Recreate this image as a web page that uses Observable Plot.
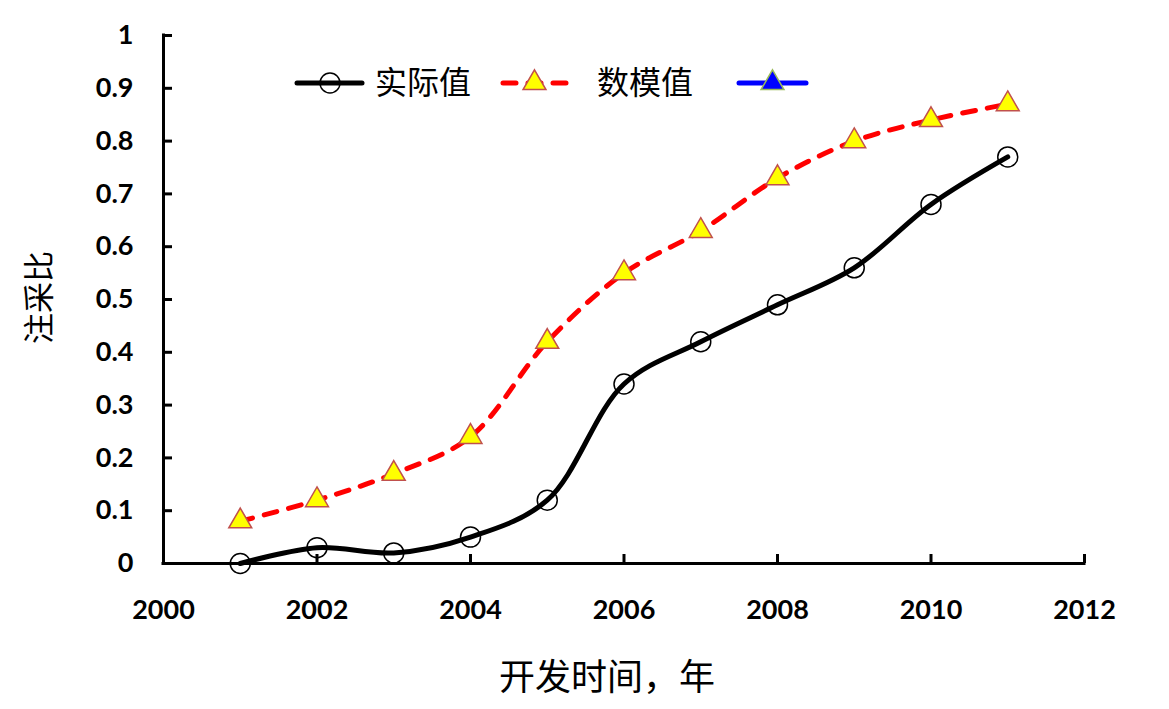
<!DOCTYPE html>
<html><head><meta charset="utf-8">
<script src="https://cdn.jsdelivr.net/npm/d3@7"></script>
<script src="https://cdn.jsdelivr.net/npm/@observablehq/plot@0.6"></script>
<style>
body{margin:0;background:#fff;}
#wrap{position:relative;width:1169px;height:709px;}
#legend{position:absolute;left:0;top:0;pointer-events:none;}
</style>
</head><body><div id="wrap"></div>
<script>
const years = [2001, 2002, 2003, 2004, 2005, 2006, 2007, 2008, 2009, 2010, 2011];
const actual = [0.00, 0.03, 0.02, 0.05, 0.12, 0.34, 0.42, 0.49, 0.56, 0.68, 0.77];
const model = [0.08, 0.12, 0.17, 0.24, 0.42, 0.55, 0.63, 0.73, 0.80, 0.84, 0.87];
const xTicks = [2000, 2002, 2004, 2006, 2008, 2010, 2012];
const yTicks = [0, 0.1, 0.2, 0.3, 0.4, 0.5, 0.6, 0.7, 0.8, 0.9, 1];
const seriesNames = ["实际值", "数模值", ""];
const xLabel = "开发时间，年";
const yLabel = "注采比";

const W = 1169, H = 709, mL = 163, mR = 85, mT = 35, mB = 146;
const pw = W - mL - mR, ph = H - mT - mB;
const actualData = years.map((x, i) => ({x, y: actual[i]}));
const modelData = years.map((x, i) => ({x, y: model[i]}));
const cjk = "'Noto Sans CJK SC', sans-serif";

const plot = Plot.plot({
  width: W, height: H,
  marginLeft: mL, marginRight: mR, marginTop: mT, marginBottom: mB,
  x: {domain: [2000, 2012]},
  y: {domain: [0, 1]},
  style: {fontFamily: "Lato, sans-serif", background: "white", color: "black"},
  marks: [
    Plot.ruleX([2000], {stroke: "black", strokeWidth: 3, strokeLinecap: "square"}),
    Plot.ruleY([0], {stroke: "black", strokeWidth: 3, strokeLinecap: "square"}),
    Plot.tickY(yTicks, {y: d => d, insetRight: pw - 9, stroke: "black", strokeWidth: 3}),
    Plot.tickX(xTicks, {x: d => d, insetTop: ph - 9, stroke: "black", strokeWidth: 3}),
    Plot.axisY(yTicks, {tickSize: 0, tickPadding: 30, tickFormat: d => String(d), fontSize: 27, fontWeight: "bold", label: null}),
    Plot.axisX(xTicks, {tickSize: 0, tickPadding: 36, tickFormat: d => String(d), fontSize: 27, fontWeight: "bold", label: null}),
    Plot.line(actualData, {x: "x", y: "y", curve: "catmull-rom", stroke: "black", strokeWidth: 5}),
    Plot.dot(actualData, {x: "x", y: "y", r: 10, stroke: "black", strokeWidth: 1.5, fill: "none"}),
    Plot.line(modelData, {x: "x", y: "y", curve: "catmull-rom", stroke: "#FF0000", strokeWidth: 5, strokeDasharray: "13,12", strokeLinecap: "round"}),
    Plot.dot(modelData, {x: "x", y: "y", symbol: "triangle", r: 8.5, fill: "#FFFF00", stroke: "#C0504D", strokeWidth: 1.5}),
    Plot.text([xLabel], {frameAnchor: "bottom", textAnchor: "middle", lineAnchor: "middle", dx: -17, dy: 115, fontSize: 36, fontFamily: cjk, fill: "black"}),
    Plot.text([yLabel], {frameAnchor: "left", textAnchor: "middle", lineAnchor: "middle", dx: -123, dy: -2, rotate: -90, fontSize: 31, fontFamily: cjk, fill: "black"})
  ]
});
const wrap = document.getElementById("wrap");
wrap.appendChild(plot);

// legend
const lg = d3.select(wrap).append("svg").attr("id", "legend").attr("width", W).attr("height", 140);
const ly = 83;
const items = [
  {x1: 297, x2: 362, color: "black", dash: null, marker: "circle", mfill: "none", mstroke: "black", tx: 375, name: seriesNames[0]},
  {x1: 503, x2: 566, color: "#FF0000", dash: "13,12", marker: "triangle", mfill: "#FFFF00", mstroke: "#C0504D", tx: 597, name: seriesNames[1]},
  {x1: 739, x2: 806, color: "#0000FF", dash: null, marker: "triangle", mfill: "#0000FF", mstroke: "#9BBB59", tx: 820, name: seriesNames[2]}
];
for (const it of items) {
  lg.append("line").attr("x1", it.x1).attr("x2", it.x2).attr("y1", ly).attr("y2", ly)
    .attr("stroke", it.color).attr("stroke-width", 5).attr("stroke-linecap", "round")
    .attr("stroke-dasharray", it.dash);
  const cx = it.marker === "circle" ? 330 : (it.x1 + it.x2) / 2;
  if (it.marker === "circle") {
    lg.append("circle").attr("cx", cx).attr("cy", ly).attr("r", 10).attr("fill", "none").attr("stroke", it.mstroke).attr("stroke-width", 1.5);
  } else {
    lg.append("path").attr("transform", `translate(${cx},${ly})`)
      .attr("d", d3.symbol(d3.symbolTriangle, Math.PI * 8.5 * 8.5)())
      .attr("fill", it.mfill).attr("stroke", it.mstroke).attr("stroke-width", 1.5);
  }
  if (it.name) {
    lg.append("text").attr("x", it.tx).attr("y", ly).attr("dy", "0.35em")
      .attr("font-family", cjk).attr("font-size", 32).attr("fill", "black").text(it.name);
  }
}
</script>
</body></html>
